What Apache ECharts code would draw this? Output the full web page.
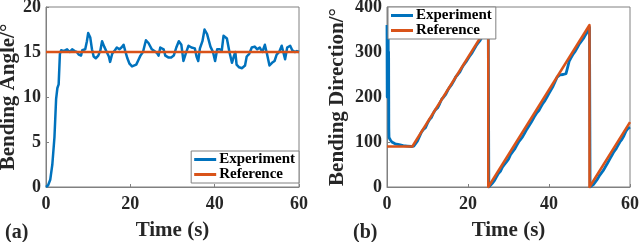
<!DOCTYPE html>
<html>
<head>
<meta charset="utf-8">
<script src="https://cdn.jsdelivr.net/npm/echarts@6/dist/echarts.min.js"></script>
<style>html,body{margin:0;padding:0;background:#fff}#c{width:640px;height:242px}</style>
</head>
<body>
<div id="c"></div>
<script>
// ---- data ----
const seriesNames = ['Experiment', 'Reference'];
const xTicks = [0, 20, 40, 60];
const angleTicks = [0, 5, 10, 15, 20];
const directionTicks = [0, 100, 200, 300, 400];

const angleExperiment = [[0,0],[0.5,0.2],[1,0.8],[1.5,2.5],[2,5.5],[2.4,9.8],[2.7,11],[3.0,11.4],[3.3,14.8],[3.6,15.2],[4.2,15.1],[5,15.3],[5.6,15.0],[6.2,15.3],[6.8,15.1],[7.3,15.0],[7.8,14.7],[8.3,14.6],[8.6,15.2],[9.3,15.3],[9.7,16.2],[10.0,17.1],[10.5,16.6],[10.9,15.3],[11.3,14.5],[11.8,14.3],[12.4,14.6],[12.9,15.2],[13.3,16.2],[13.8,15.6],[14.4,15.0],[14.9,14.5],[15.2,13.9],[15.7,14.8],[16.2,15.1],[16.8,15.5],[17.4,15.3],[17.9,15.5],[18.4,15.8],[18.8,15.1],[19.3,14.3],[19.8,13.7],[20.4,13.4],[20.8,13.2],[21.4,13.6],[22.0,14.2],[22.4,14.6],[23.0,15.0],[23.7,16.3],[24.3,16.0],[25.1,15.3],[25.7,15.1],[26.3,14.9],[26.7,14.6],[27.1,15.5],[27.9,15.3],[28.3,14.6],[29.0,14.4],[29.7,14.4],[30.3,14.6],[30.9,15.5],[31.5,16.2],[32.1,15.8],[32.6,14.0],[33.2,14.9],[33.8,15.7],[34.5,15.5],[35.3,15.4],[35.7,14.5],[36.1,14.0],[36.5,15.4],[37.1,16.2],[37.6,17.5],[38.2,17.0],[38.6,16.8],[39.0,15.6],[39.6,15.0],[40.1,14.0],[40.6,15.3],[41.2,15.3],[41.7,15.2],[42.1,16.8],[42.9,16.5],[43.5,15.0],[44.1,13.8],[44.6,14.6],[44.9,15.0],[45.2,13.6],[45.8,13.3],[46.5,13.2],[47.2,13.5],[47.6,14.5],[48.2,14.8],[48.8,15.5],[49.5,15.6],[50.1,15.3],[50.7,15.5],[51.3,15.0],[51.9,15.8],[52.4,14.8],[53.0,13.5],[53.6,13.8],[54.2,14.0],[54.7,14.7],[55.3,15.0],[55.9,15.7],[56.3,15.5],[56.7,14.2],[57.2,15.5],[57.9,15.7],[58.4,15.2],[59.0,15.0],[59.5,15.1],[60,15.0]];
const angleReference = [[0,15],[60,15]];

const directionExperiment = [[0,360],[0.05,200],[0.1,355],[0.15,210],[0.2,340],[0.25,220],[0.3,330],[0.35,200],[0.4,300],[0.45,130],[0.5,110],[0.8,105],[1.2,100],[2,96],[3,94],[4,92],[5,91],[6,90],[6.6,91],[7,95],[7.5,102],[8,112],[8.5,122],[9,128],[9.5,132],[10,142],[10.5,150],[11,155],[11.5,165],[12,172],[12.5,176],[13,185],[13.5,195],[14,200],[14.5,206],[15,215],[15.5,222],[16,228],[16.5,236],[17,245],[17.5,250],[18,256],[18.5,265],[19,272],[19.5,278],[20,285],[20.5,292],[21,298],[21.5,306],[22,314],[22.5,320],[23,326],[23.5,334],[24,340],[24.5,348],[25,356],[25.1,358],[25.15,0],[25.5,2],[26,8],[26.5,14],[27,22],[27.5,30],[28,35],[28.5,44],[29,50],[29.5,56],[30,62],[30.5,72],[31,78],[31.5,84],[32,92],[32.5,100],[33,106],[33.5,112],[34,120],[34.5,128],[35,135],[35.5,142],[36,150],[36.5,158],[37,165],[37.5,170],[38,178],[38.5,186],[39,192],[39.5,200],[40,208],[40.5,216],[41,224],[41.5,234],[42,244],[42.7,249],[43.5,250],[44.2,252],[44.6,266],[45,280],[45.5,288],[46,296],[46.5,302],[47,310],[47.5,318],[48,324],[48.5,330],[49,338],[49.5,345],[50,355],[50.1,358],[50.15,0],[50.5,2],[51,6],[51.5,12],[52,18],[52.5,26],[53,32],[53.5,38],[54,46],[54.5,54],[55,62],[55.5,70],[56,78],[56.5,84],[57,92],[57.5,100],[58,106],[58.5,114],[59,124],[59.5,130],[60,133]];
const directionReference = [[0,90],[6.25,90],[25,360],[25,0],[50,360],[50,0],[60,144]];

// ---- chart ----
const FONT = 'Liberation Serif';
const TXT = '#262626';
const AX = '#808080';
const BLUE = '#0072BD';
const ORANGE = '#D95319';

function xAxisDef(gi) {
  return {
    type: 'value', gridIndex: gi, min: 0, max: 60, interval: 20,
    name: 'Time (s)', nameLocation: 'middle', nameGap: 33,
    nameTextStyle: {fontFamily: FONT, fontWeight: 'bold', fontSize: 21, color: TXT},
    axisLine: {show: true, lineStyle: {color: AX, width: 1}},
    axisTick: {show: true, inside: true, length: 3, lineStyle: {color: AX}},
    axisLabel: {fontFamily: FONT, fontWeight: 'bold', fontSize: 18, color: TXT, margin: 8,
      formatter: v => xTicks.includes(v) ? String(v) : ''},
    splitLine: {show: false}
  };
}
function yAxisDef(gi, max, interval, name, gap, ticks) {
  return {
    type: 'value', gridIndex: gi, min: 0, max: max, interval: interval,
    name: name, nameLocation: 'middle', nameGap: gap,
    nameTextStyle: {fontFamily: FONT, fontWeight: 'bold', fontSize: 21, color: TXT},
    axisLine: {show: true, lineStyle: {color: AX, width: 1}},
    axisTick: {show: true, inside: true, length: 3, lineStyle: {color: AX}},
    axisLabel: {fontFamily: FONT, fontWeight: 'bold', fontSize: 18, color: TXT, margin: 5,
      formatter: v => ticks.includes(v) ? String(v) : ''},
    splitLine: {show: false}
  };
}
function legendDef(gi, pos) {
  return Object.assign({
    data: seriesNames.map(n => ({name: n, itemStyle: {opacity: 1}})),
    orient: 'vertical',
    icon: 'rect', itemWidth: 22, itemHeight: 3, itemGap: 0,
    padding: [1, 4, 1, 3],
    borderColor: AX, borderWidth: 1, borderRadius: 0, backgroundColor: '#fff',
    textStyle: {fontFamily: FONT, fontWeight: 'bold', fontSize: 15, color: '#000', lineHeight: 15, padding: [0,0,0,-2]},
    selectedMode: false
  }, pos);
}
function lineSeries(name, data, xi, color, width, z) {
  return {
    name: name, type: 'line', data: data, xAxisIndex: xi, yAxisIndex: xi,
    showSymbol: false, symbol: 'none', animation: false, z: z,
    lineStyle: {color: color, width: width, join: 'round'},
    itemStyle: {color: color}
  };
}

const chart = echarts.init(document.getElementById('c'), null, {renderer: 'canvas'});
chart.setOption({
  animation: false,
  backgroundColor: '#fff',
  grid: [
    {left: 46, top: 7, width: 253, height: 180, show: true, borderColor: AX, borderWidth: 1, backgroundColor: 'transparent', outerBoundsMode: 'none', containLabel: false},
    {left: 387, top: 7, width: 243, height: 180, show: true, borderColor: AX, borderWidth: 1, backgroundColor: 'transparent', outerBoundsMode: 'none', containLabel: false}
  ],
  xAxis: [xAxisDef(0), xAxisDef(1)],
  yAxis: [
    yAxisDef(0, 20, 5, 'Bending Angle/°', 27, angleTicks),
    yAxisDef(1, 400, 100, 'Bending Direction/°', 39, directionTicks)
  ],
  legend: [
    legendDef(0, {right: 341, bottom: 59}),
    legendDef(1, {left: 388, top: 7})
  ],
  series: [
    lineSeries('Experiment', angleExperiment, 0, BLUE, 2.5, 2),
    lineSeries('Reference', angleReference, 0, ORANGE, 2.5, 3),
    lineSeries('Experiment', directionExperiment, 1, BLUE, 2.8, 2),
    lineSeries('Reference', directionReference, 1, ORANGE, 2.5, 3)
  ],
  graphic: [
    {type: 'text', left: 5, top: 223, style: {text: '(a)', font: 'bold 20px "Liberation Serif"', fill: TXT}},
    {type: 'text', left: 353, top: 223, style: {text: '(b)', font: 'bold 20px "Liberation Serif"', fill: TXT}}
  ]
});
</script>
</body>
</html>
